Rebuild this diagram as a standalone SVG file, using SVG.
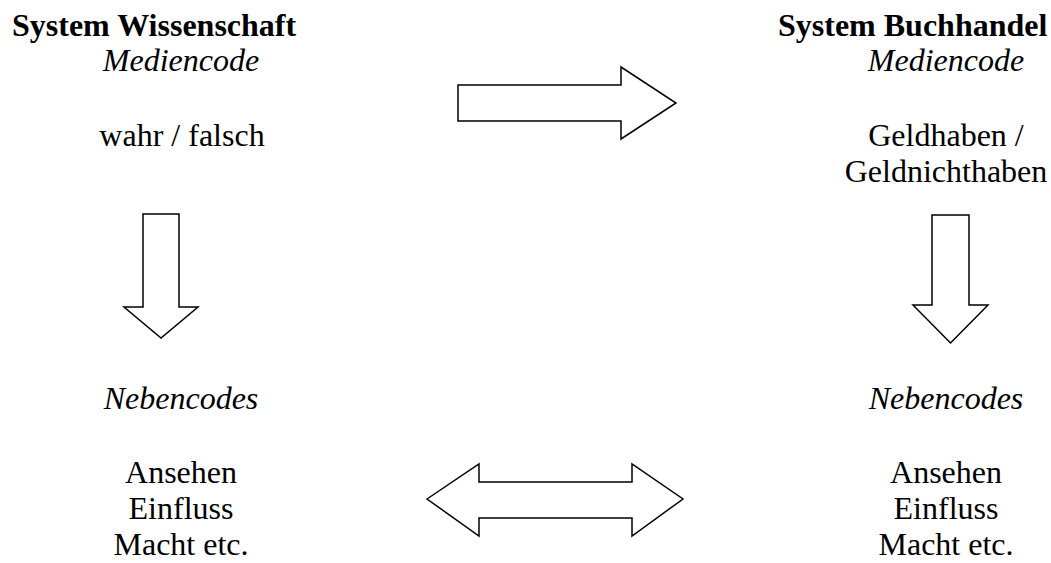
<svg xmlns="http://www.w3.org/2000/svg" width="1051" height="563" viewBox="0 0 1051 563">
<style>
text{font-family:"Liberation Serif","Times New Roman",serif;font-size:32px;fill:#000}
.t{font-weight:bold}
.i{font-style:italic}
.c{text-anchor:middle}
.a{fill:#fff;stroke:#000;stroke-width:1.5;stroke-linejoin:miter}
</style>
<rect width="1051" height="563" fill="#fff"/>
<g id="wissenschaft">
<text class="t" x="12" y="36">System Wissenschaft</text>
<text class="i c" x="181" y="71">Mediencode</text>
<text class="c" x="182" y="146">wahr / falsch</text>
</g>
<g id="buchhandel">
<text class="t" x="778" y="36">System Buchhandel</text>
<text class="i c" x="946" y="71">Mediencode</text>
<text class="c" x="946" y="146">Geldhaben /</text>
<text class="c" x="946" y="182">Geldnichthaben</text>
</g>
<g id="nebencodes-wissenschaft">
<text class="i c" x="181" y="409">Nebencodes</text>
<text class="c" x="181" y="483">Ansehen</text>
<text class="c" x="181" y="519">Einfluss</text>
<text class="c" x="181" y="555">Macht etc.</text>
</g>
<g id="nebencodes-buchhandel">
<text class="i c" x="946" y="409">Nebencodes</text>
<text class="c" x="946" y="483">Ansehen</text>
<text class="c" x="946" y="519">Einfluss</text>
<text class="c" x="946" y="555">Macht etc.</text>
</g>
<g id="connectors">
<polygon class="a" points="458,85 621,85 621,67 676,103 621,139 621,121 458,121"/>
<polygon class="a" points="143,214 179,214 179,307 198,307 161,338 124,307 143,307"/>
<polygon class="a" points="932,215 969,215 969,305 988,305 950.5,343 913,305 932,305"/>
<polygon class="a" points="427,499 479,464 479,482 632,482 632,464 683,499 632,536 632,518 479,518 479,536"/>
</g>
</svg>
